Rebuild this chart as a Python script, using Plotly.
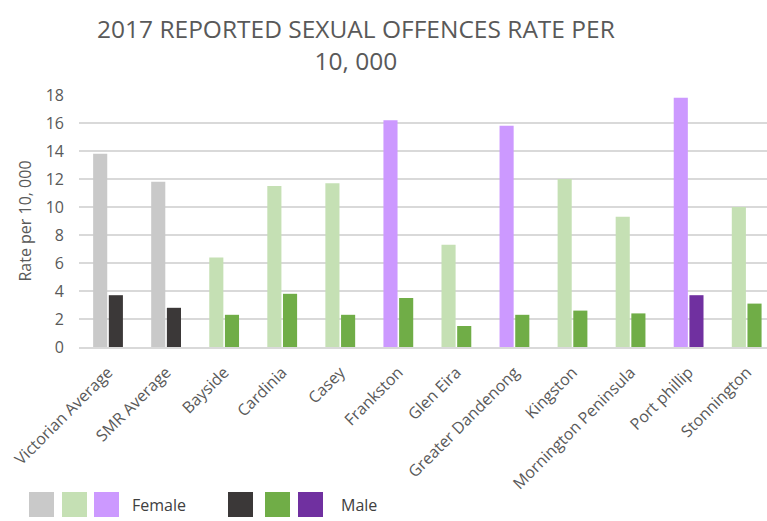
import plotly.graph_objects as go

categories = ["Victorian Average", "SMR Average", "Bayside", "Cardinia", "Casey",
              "Frankston", "Glen Eira", "Greater Dandenong", "Kingston",
              "Mornington Peninsula", "Port phillip", "Stonnington"]
female = [13.8, 11.8, 6.4, 11.5, 11.7, 16.2, 7.3, 15.8, 12.0, 9.3, 17.8, 10.0]
male = [3.7, 2.8, 2.3, 3.8, 2.3, 3.5, 1.5, 2.3, 2.6, 2.4, 3.7, 3.1]
female_groups = ["avg", "avg", "green", "green", "green", "purple", "green", "purple",
                 "green", "green", "purple", "green"]
male_groups = ["avg", "avg", "green", "green", "green", "green", "green", "green",
               "green", "green", "purple", "green"]
title_text = "2017 REPORTED SEXUAL OFFENCES RATE PER<br>10, 000"
y_title = "Rate per 10, 000"

female_colors = {"avg": "#C9C9C9", "green": "#C5E0B4", "purple": "#CC99FF"}
male_colors = {"avg": "#3B3838", "green": "#70AD47", "purple": "#7030A0"}

fig = go.Figure()
fig.add_bar(x=categories, y=female, name="Female",
            marker=dict(color=[female_colors[g] for g in female_groups], line=dict(width=0)),
            showlegend=False)
fig.add_bar(x=categories, y=male, name="Male",
            marker=dict(color=[male_colors[g] for g in male_groups], line=dict(width=0)),
            showlegend=False)

font_family = "Open Sans, Liberation Sans, sans-serif"
W, H = 767, 521
L, R, T, B = 79, 0, 95, 174
PW, PH = W - L - R, H - T - B

fig.update_layout(
    width=W, height=H,
    paper_bgcolor="white", plot_bgcolor="white",
    barmode="group", bargap=0.46, bargroupgap=0.1,
    margin=dict(l=L, r=R, t=T, b=B),
    font=dict(family=font_family, color="#595959", size=14),
    xaxis=dict(range=[-0.5, 11.35], tickangle=-45, showgrid=False,
               showline=True, linecolor="#D9D9D9", linewidth=1.5,
               ticklabelstandoff=8,
               tickfont=dict(size=16, color="#595959"), ticks=""),
    yaxis=dict(range=[0, 18], dtick=2, showgrid=True, gridcolor="#D9D9D9",
               gridwidth=1.5, zeroline=False, ticklabelstandoff=14,
               tickfont=dict(size=16, color="#595959"),
               title=dict(text=y_title, font=dict(size=16, color="#595959"),
                          standoff=10)),
)

def px_x(x):
    return (x - L) / PW

def px_y(y):
    return (H - B - y) / PH

fig.add_annotation(xref="paper", yref="paper", x=px_x(356), y=px_y(44),
                   text=title_text, showarrow=False, xanchor="center", yanchor="middle",
                   font=dict(size=24.5, color="#595959"))

shapes = []
swatches = [(29, "#C9C9C9"), (62, "#C5E0B4"), (94, "#CC99FF"),
            (228, "#3B3838"), (265, "#70AD47"), (298, "#7030A0")]
for x0, c in swatches:
    shapes.append(dict(type="rect", xref="paper", yref="paper",
                       x0=px_x(x0), x1=px_x(x0 + 25),
                       y0=px_y(517), y1=px_y(492),
                       fillcolor=c, line=dict(width=0)))
fig.update_layout(shapes=shapes)
fig.add_annotation(xref="paper", yref="paper", x=px_x(130), y=px_y(505),
                   text="Female", showarrow=False, xanchor="left", yanchor="middle",
                   font=dict(size=16, color="#404040"))
fig.add_annotation(xref="paper", yref="paper", x=px_x(339), y=px_y(505),
                   text="Male", showarrow=False, xanchor="left", yanchor="middle",
                   font=dict(size=16, color="#404040"))

fig.write_html("out.html", config={"displayModeBar": False},
               post_script="document.body.style.margin='0';")
